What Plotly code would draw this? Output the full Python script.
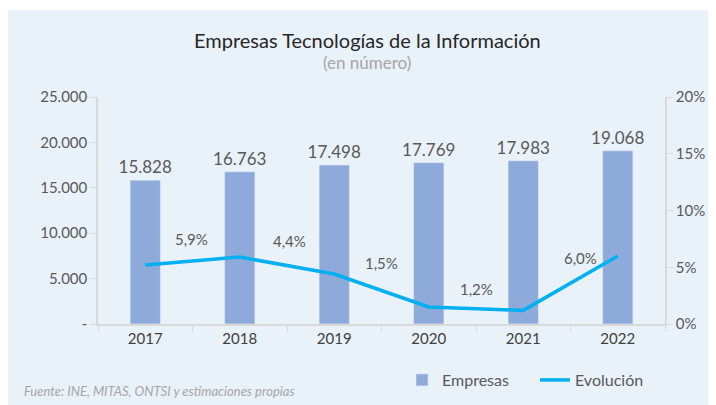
import plotly.graph_objects as go

years = ["2017", "2018", "2019", "2020", "2021", "2022"]
empresas = [15828, 16763, 17498, 17769, 17983, 19068]
empresas_labels = ["15.828", "16.763", "17.498", "17.769", "17.983", "19.068"]
evolucion = [5.2, 5.9, 4.4, 1.5, 1.2, 6.0]
evol_labels = ["", "5,9%", "4,4%", "1,5%", "1,2%", "6,0%"]
left_ticks = [0, 5000, 10000, 15000, 20000, 25000]
left_ticktext = ["-", "5.000", "10.000", "15.000", "20.000", "25.000"]
right_ticks = [0, 5, 10, 15, 20]
right_ticktext = ["0%", "5%", "10%", "15%", "20%"]

# label offsets (pixels) for the line labels
label_shift = [(0, 0), (-48, 18), (-45, 33), (-47, 44), (-47, 21), (-37, -2)]

FONT = "Lato"
BG = "#e9f1f9"
AX = "#d9d9d9"
TXT = "#595959"

# the page body adds an 8px offset; plot area spans ref px x 98..665, y 97..324
PL, PT, PW, PH = 98, 97, 567, 227


def px(x):
    return (x - PL) / PW


def py(y):
    return (PT + PH - y) / PH


fig = go.Figure()
fig.add_trace(go.Bar(
    x=years, y=empresas, name="Empresas",
    marker=dict(color="#8eaadb"), width=0.32,
    text=empresas_labels, textposition="outside", cliponaxis=False,
    constraintext="none",
    textfont=dict(size=17, color=TXT, family=FONT),
))
fig.add_trace(go.Scatter(
    x=years, y=evolucion, name="Evolución", yaxis="y2",
    mode="lines", line=dict(color="#00b0f0", width=3.5),
))

for i, (v, lab, (dx, dy)) in enumerate(zip(evolucion, evol_labels, label_shift)):
    if lab:
        fig.add_annotation(x=i, y=v, xref="x", yref="y2", text=lab,
                           showarrow=False, xshift=dx, yshift=dy,
                           font=dict(size=15, color=TXT, family=FONT))

fig.add_shape(type="rect", xref="paper", yref="paper",
              x0=px(0), x1=px(716), y0=py(420), y1=py(10),
              fillcolor=BG, line=dict(width=0), layer="below")

fig.add_annotation(xref="paper", yref="paper", x=px(367), y=py(40),
                   text="Empresas Tecnologías de la Información", showarrow=False,
                   font=dict(size=20, color="#262626", family=FONT), yanchor="middle")
fig.add_annotation(xref="paper", yref="paper", x=px(367), y=py(63),
                   text="(en número)", showarrow=False,
                   font=dict(size=17, color="#a6a6a6", family=FONT), yanchor="middle")
fig.add_annotation(xref="paper", yref="paper", x=px(22), y=py(391),
                   text="<i>Fuente: INE, MITAS, ONTSI y estimaciones propias</i>",
                   showarrow=False, xanchor="left", yanchor="middle",
                   font=dict(size=13, color="#a6a6a6", family=FONT))

fig.update_layout(
    width=708, height=397,
    margin=dict(l=PL - 8, r=708 - (PL + PW - 8), t=PT - 8, b=397 - (PT + PH - 8),
                autoexpand=False),
    paper_bgcolor="white", plot_bgcolor=BG,
    font=dict(family=FONT, color=TXT, size=15),
    showlegend=True,
    legend=dict(orientation="h", x=px(402), y=py(380),
                xanchor="left", yanchor="middle", bgcolor="rgba(0,0,0,0)",
                entrywidth=88, entrywidthmode="pixels",
                font=dict(size=16, color=TXT, family=FONT)),
    xaxis=dict(type="category", showline=True, linecolor=AX, linewidth=1.5,
               ticks="outside", tickson="boundaries", ticklen=6, tickcolor=AX,
               showgrid=False, tickfont=dict(size=15, color="#404040"),
               range=[-0.5, 5.5]),
    yaxis=dict(range=[0, 25000], tickvals=left_ticks, ticktext=left_ticktext,
               showline=True, linecolor=AX, linewidth=1.5, ticks="outside",
               ticklen=6, tickcolor=AX, showgrid=False, zeroline=False,
               tickfont=dict(size=15, color=TXT)),
    yaxis2=dict(range=[0, 20], tickvals=right_ticks, ticktext=right_ticktext,
                overlaying="y", side="right", showline=True, linecolor=AX,
                linewidth=1.5, ticks="outside", ticklen=6, tickcolor=AX,
                showgrid=False, zeroline=False, tickfont=dict(size=15, color=TXT)),
    bargap=0.68,
)

fig.write_html("out.html")
